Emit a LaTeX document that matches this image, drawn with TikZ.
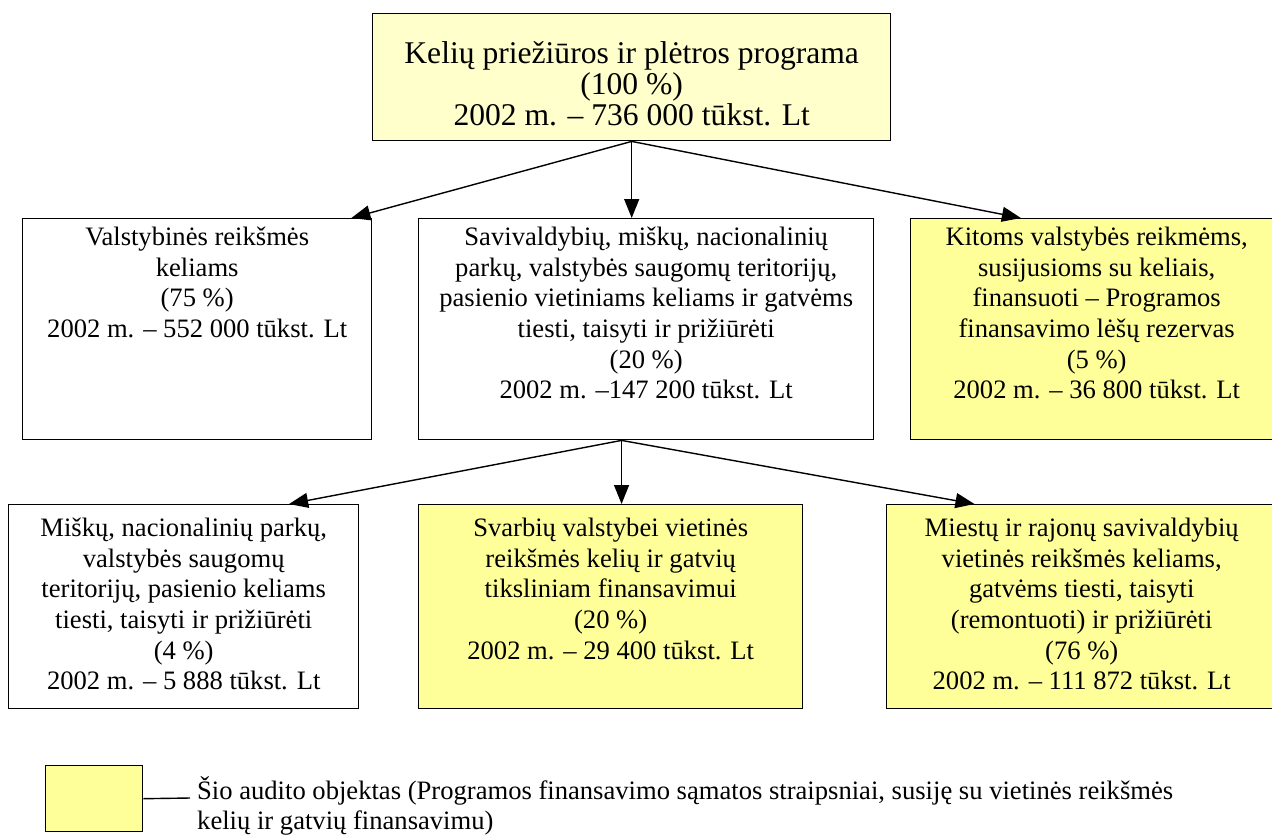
\documentclass[tikz,border=0pt]{standalone}
\usepackage{fontspec}
\setmainfont{Liberation Serif}
\newfontfamily\timesface{Liberation Serif}
\usetikzlibrary{arrows.meta,calc}
\definecolor{hilite}{HTML}{FFFF99}
\definecolor{palehl}{HTML}{FFFFCC}
% #1 width, #2 total height, #3 distance from top edge to first baseline, #4 lines
\newcommand{\cellcontent}[4]{\begin{minipage}[t][#2][t]{#1}\centering\rule{0pt}{#3}#4\end{minipage}}
\begin{document}
\begin{tikzpicture}[x=1pt,y=-1pt,
  cellbox/.style={draw=black,line width=1.4pt,inner sep=0pt,anchor=north west,
    font=\timesface\fontsize{26.6}{30.6}\selectfont},
  arr/.style={line width=1.4pt,-{Triangle[length=19pt,width=15pt]}},
  keytext/.style={anchor=north west,inner sep=0pt,font=\timesface\fontsize{26.6}{30.6}\selectfont}]
\useasboundingbox (0,0) rectangle (1272,835);

% programme as a whole
\node[cellbox,fill=palehl,font=\timesface\fontsize{31.6}{31}\selectfont] (prog) at (372,13)
  {\cellcontent{518pt}{127pt}{50pt}{Kelių priežiūros ir plėtros programa\\(100~\%)\\2002 m. – 736~000 tūkst. Lt}};

% first split
\node[cellbox,fill=white] (valst) at (22,218)
  {\cellcontent{349pt}{221pt}{27pt}{Valstybinės reikšmės\\keliams\\(75~\%)\\2002 m. – 552~000 tūkst. Lt}};
\node[cellbox,fill=white] (savi) at (418,218)
  {\cellcontent{455pt}{221pt}{27pt}{Savivaldybių, miškų, nacionalinių\\parkų, valstybės saugomų teritorijų,\\pasienio vietiniams keliams ir gatvėms\\tiesti, taisyti ir prižiūrėti\\(20~\%)\\2002 m. –147~200 tūkst. Lt}};
\node[cellbox,fill=hilite] (kitos) at (910,218)
  {\cellcontent{372pt}{221pt}{27pt}{Kitoms valstybės reikmėms,\\susijusioms su keliais,\\finansuoti – Programos\\finansavimo lėšų rezervas\\(5~\%)\\2002 m. – 36~800 tūkst. Lt}};

% second split
\node[cellbox,fill=white] (misku) at (8,504)
  {\cellcontent{350pt}{204pt}{32pt}{Miškų, nacionalinių parkų,\\valstybės saugomų\\teritorijų, pasienio keliams\\tiesti, taisyti ir prižiūrėti\\(4~\%)\\2002 m. – 5~888 tūkst. Lt}};
\node[cellbox,fill=hilite] (svarb) at (418,504)
  {\cellcontent{384pt}{204pt}{32pt}{Svarbių valstybei vietinės\\reikšmės kelių ir gatvių\\tiksliniam finansavimui\\(20~\%)\\2002 m. – 29~400 tūkst. Lt}};
\node[cellbox,fill=hilite] (miest) at (886,504)
  {\cellcontent{390pt}{204pt}{32pt}{Miestų ir rajonų savivaldybių\\vietinės reikšmės keliams,\\gatvėms tiesti, taisyti\\(remontuoti) ir prižiūrėti\\(76~\%)\\2002 m. – 111~872 tūkst. Lt}};

% connectors
\draw[arr] (prog.south) -- ($(valst.north west)!0.94!(valst.north east)$);
\draw[arr] (prog.south) -- (prog.south |- savi.north);
\draw[arr] (prog.south) -- ($(kitos.north west)!0.297!(kitos.north east)$);
\coordinate (split) at ($(savi.south west)!0.446!(savi.south east)$);
\draw[arr] (split) -- ($(misku.north west)!0.8!(misku.north east)$);
\draw[arr] (split) -- (split |- svarb.north);
\draw[arr] (split) -- ($(miest.north west)!0.226!(miest.north east)$);

% key
\node[draw=black,line width=1.4pt,fill=hilite,inner sep=0pt,minimum width=97pt,
  minimum height=66pt,anchor=north west] (key) at (45,765) {};
\coordinate (keyend) at (190,798);
\draw[line width=1.4pt] (key.east) -- (keyend);
\node[keytext] (keylabel) at (197,776)
  {\begin{minipage}[t]{1070pt}\rule{0pt}{20pt}Šio audito objektas (Programos finansavimo sąmatos straipsniai, susiję su vietinės reikšmės\\kelių ir gatvių finansavimu)\end{minipage}};
\end{tikzpicture}
\end{document}
